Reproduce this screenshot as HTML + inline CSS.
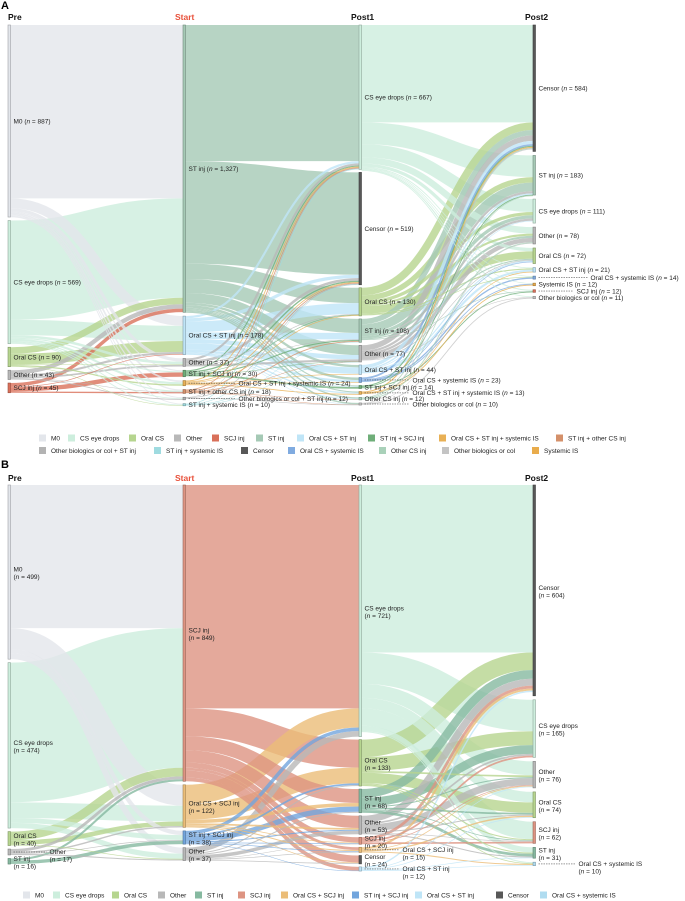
<!DOCTYPE html>
<html><head><meta charset="utf-8">
<style>
html,body{margin:0;padding:0;background:#fff;}
svg{display:block;font-family:"Liberation Sans",Arial,sans-serif;}
</style></head>
<body>
<svg id="chart" width="685" height="901" viewBox="0 0 685 901" xmlns="http://www.w3.org/2000/svg">
<text x="1" y="9" font-size="11" font-weight="bold">A</text>
<text x="1" y="468" font-size="11" font-weight="bold">B</text>
<g id="panelA"></g>
<g id="panelB"></g>
<g id="legendA"></g>
<g id="legendB"></g>
</svg>
<script>
// ---------- Panel A data ----------
const aStages = ["Pre","Start","Post1","Post2"];
const aPreNames = ["M0","CS eye drops","Oral CS","Other","SCJ inj"];
const aPreCounts = [887,569,90,43,45];
const aStartNames = ["ST inj","Oral CS + ST inj","Other","ST inj + SCJ inj","Oral CS + ST inj + systemic IS","ST inj + other CS inj","Other biologics or col + ST inj","ST inj + systemic IS"];
const aStartCounts = [1327,178,37,30,24,18,12,10];
const aPost1Names = ["CS eye drops","Censor","Oral CS","ST inj","Other","Oral CS + ST inj","Oral CS + systemic IS","ST inj + SCJ inj","Oral CS + ST inj + systemic IS","Other CS inj","Other biologics or col"];
const aPost1Counts = [667,519,130,108,77,44,23,14,13,12,10];
const aPost2Names = ["Censor","ST inj","CS eye drops","Other","Oral CS","Oral CS + ST inj","Oral CS + systemic IS","Systemic IS","SCJ inj","Other biologics or col"];
const aPost2Counts = [584,183,111,78,72,21,14,12,12,11];
const aFlowsPreStart = [
 ["M0","ST inj",801],["M0","Oral CS + ST inj",45],["M0","Other",15],["M0","ST inj + SCJ inj",5],["M0","Oral CS + ST inj + systemic IS",8],["M0","ST inj + other CS inj",6],["M0","Other biologics or col + ST inj",4],["M0","ST inj + systemic IS",4],
 ["CS eye drops","ST inj",459],["CS eye drops","Oral CS + ST inj",70],["CS eye drops","Other",12],["CS eye drops","ST inj + SCJ inj",5],["CS eye drops","Oral CS + ST inj + systemic IS",10],["CS eye drops","ST inj + other CS inj",5],["CS eye drops","Other biologics or col + ST inj",4],["CS eye drops","ST inj + systemic IS",4],
 ["Oral CS","ST inj",30],["Oral CS","Oral CS + ST inj",50],["Oral CS","Oral CS + ST inj + systemic IS",6],["Oral CS","Other",2],["Oral CS","ST inj + systemic IS",2],
 ["Other","ST inj",20],["Other","Oral CS + ST inj",10],["Other","Other",8],["Other","Other biologics or col + ST inj",4],["Other","ST inj + other CS inj",1],
 ["SCJ inj","ST inj",16],["SCJ inj","ST inj + SCJ inj",20],["SCJ inj","ST inj + other CS inj",6],["SCJ inj","Oral CS + ST inj",3]
];
const aFlowsStartPost1 = [
 ["ST inj","CS eye drops",629],["ST inj","Censor",473],["ST inj","Oral CS",71],["ST inj","ST inj",65],["ST inj","Other",45],["ST inj","Oral CS + ST inj",11],["ST inj","Oral CS + systemic IS",12],["ST inj","ST inj + SCJ inj",5],["ST inj","Oral CS + ST inj + systemic IS",5],["ST inj","Other CS inj",6],["ST inj","Other biologics or col",7],
 ["Oral CS + ST inj","CS eye drops",10],["Oral CS + ST inj","Censor",15],["Oral CS + ST inj","Oral CS",50],["Oral CS + ST inj","ST inj",30],["Oral CS + ST inj","Other",20],["Oral CS + ST inj","Oral CS + ST inj",30],["Oral CS + ST inj","Oral CS + systemic IS",10],["Oral CS + ST inj","Oral CS + ST inj + systemic IS",6],["Oral CS + ST inj","Other CS inj",4],["Oral CS + ST inj","ST inj + SCJ inj",2],["Oral CS + ST inj","Other biologics or col",1],
 ["Other","CS eye drops",10],["Other","Censor",12],["Other","Other",10],["Other","Oral CS",3],["Other","ST inj",2],
 ["ST inj + SCJ inj","CS eye drops",5],["ST inj + SCJ inj","Censor",6],["ST inj + SCJ inj","ST inj + SCJ inj",8],["ST inj + SCJ inj","ST inj",5],["ST inj + SCJ inj","Oral CS",3],["ST inj + SCJ inj","Other",1],
 ["Oral CS + ST inj + systemic IS","Censor",4],["Oral CS + ST inj + systemic IS","Oral CS + systemic IS",3],["Oral CS + ST inj + systemic IS","Oral CS + ST inj + systemic IS",4],["Oral CS + ST inj + systemic IS","Oral CS",3],["Oral CS + ST inj + systemic IS","CS eye drops",4],["Oral CS + ST inj + systemic IS","Oral CS + ST inj",3],
 ["ST inj + other CS inj","CS eye drops",4],["ST inj + other CS inj","Censor",4],["ST inj + other CS inj","ST inj",4],["ST inj + other CS inj","Other CS inj",2],["ST inj + other CS inj","Other",1],["ST inj + other CS inj","Other biologics or col",1],
 ["Other biologics or col + ST inj","CS eye drops",2],["Other biologics or col + ST inj","Censor",3],["Other biologics or col + ST inj","Other biologics or col",1],
 ["ST inj + systemic IS","CS eye drops",3],["ST inj + systemic IS","ST inj",2],["ST inj + systemic IS","Censor",2],["ST inj + systemic IS","Other",1]
];
const aFlowsPost1Post2 = [
 ["CS eye drops","Censor",450],["CS eye drops","ST inj",100],["CS eye drops","CS eye drops",60],["CS eye drops","Other",30],["CS eye drops","Oral CS",15],["CS eye drops","Oral CS + ST inj",4],["CS eye drops","Oral CS + systemic IS",3],["CS eye drops","Systemic IS",3],["CS eye drops","SCJ inj",5],["CS eye drops","Other biologics or col",4],
 ["Oral CS","Censor",35],["Oral CS","ST inj",25],["Oral CS","Oral CS",35],["Oral CS","Other",10],["Oral CS","CS eye drops",15],["Oral CS","Oral CS + ST inj",5],["Oral CS","Oral CS + systemic IS",3],
 ["ST inj","Censor",25],["ST inj","ST inj",40],["ST inj","Other",10],["ST inj","CS eye drops",15],["ST inj","Oral CS",5],["ST inj","SCJ inj",3],
 ["Other","Censor",25],["Other","Other",20],["Other","ST inj",10],["Other","CS eye drops",10],["Other","Oral CS",3],["Other","Other biologics or col",2],
 ["Oral CS + ST inj","Censor",15],["Oral CS + ST inj","ST inj",6],["Oral CS + ST inj","Oral CS + ST inj",10],["Oral CS + ST inj","Oral CS",5],["Oral CS + ST inj","CS eye drops",3],
 ["Oral CS + systemic IS","Censor",8],["Oral CS + systemic IS","Oral CS + systemic IS",6],["Oral CS + systemic IS","Systemic IS",4],["Oral CS + systemic IS","Oral CS",3],
 ["ST inj + SCJ inj","Censor",5],["ST inj + SCJ inj","ST inj",4],["ST inj + SCJ inj","SCJ inj",4],
 ["Oral CS + ST inj + systemic IS","Censor",5],["Oral CS + ST inj + systemic IS","Systemic IS",4],["Oral CS + ST inj + systemic IS","Oral CS + ST inj",3],
 ["Other CS inj","Censor",4],["Other CS inj","ST inj",3],["Other CS inj","Other",4],
 ["Other biologics or col","Censor",3],["Other biologics or col","Other biologics or col",4],["Other biologics or col","Other",2]
];
const aColors = {"M0":"#e3e6eb","CS eye drops":"#cdeedd","Oral CS":"#b6d58f","Other":"#b8b8b8","SCJ inj":"#d9705a","ST inj":"#a5c9b5","Oral CS + ST inj":"#bfe5f7","ST inj + SCJ inj":"#6fae79","Oral CS + ST inj + systemic IS":"#e8b055","ST inj + other CS inj":"#d4906a","Other biologics or col + ST inj":"#b3b3b3","ST inj + systemic IS":"#9fdbe0","Censor":"#585858","Oral CS + systemic IS":"#80abe0","Other CS inj":"#a9d1b9","Other biologics or col":"#c4c4c4","Systemic IS":"#e9ac4c"};
const aLegendNames = ["M0","CS eye drops","Oral CS","Other","SCJ inj","ST inj","Oral CS + ST inj","ST inj + SCJ inj","Oral CS + ST inj + systemic IS","ST inj + other CS inj","Other biologics or col + ST inj","ST inj + systemic IS","Censor","Oral CS + systemic IS","Other CS inj","Other biologics or col","Systemic IS"];

// ---------- Panel B data ----------
const bPreNames = ["M0","CS eye drops","Oral CS","Other","ST inj"];
const bPreCounts = [499,474,40,17,16];
const bStartNames = ["SCJ inj","Oral CS + SCJ inj","ST inj + SCJ inj","Other"];
const bStartCounts = [849,122,38,37];
const bPost1Names = ["CS eye drops","Oral CS","ST inj","Other","SCJ inj","Oral CS + SCJ inj","Censor","Oral CS + ST inj"];
const bPost1Counts = [721,133,68,53,20,15,24,12];
const bPost2Names = ["Censor","CS eye drops","Other","Oral CS","SCJ inj","ST inj","Oral CS + systemic IS"];
const bPost2Counts = [604,165,76,74,62,31,10];
const bFlowsPreStart = [
 ["M0","SCJ inj",410],["M0","Oral CS + SCJ inj",60],["M0","ST inj + SCJ inj",12],["M0","Other",17],
 ["CS eye drops","SCJ inj",400],["CS eye drops","Oral CS + SCJ inj",45],["CS eye drops","ST inj + SCJ inj",14],["CS eye drops","Other",15],
 ["Oral CS","SCJ inj",25],["Oral CS","Oral CS + SCJ inj",13],["Oral CS","Other",2],
 ["Other","SCJ inj",8],["Other","Oral CS + SCJ inj",4],["Other","ST inj + SCJ inj",2],["Other","Other",3],
 ["ST inj","SCJ inj",6],["ST inj","ST inj + SCJ inj",10]
];
const bFlowsStartPost1 = [
 ["SCJ inj","CS eye drops",640],["SCJ inj","Oral CS",80],["SCJ inj","ST inj",40],["SCJ inj","Other",35],["SCJ inj","SCJ inj",15],["SCJ inj","Oral CS + SCJ inj",8],["SCJ inj","Censor",20],["SCJ inj","Oral CS + ST inj",11],
 ["Oral CS + SCJ inj","CS eye drops",55],["Oral CS + SCJ inj","Oral CS",45],["Oral CS + SCJ inj","ST inj",10],["Oral CS + SCJ inj","Other",5],["Oral CS + SCJ inj","SCJ inj",2],["Oral CS + SCJ inj","Oral CS + SCJ inj",3],["Oral CS + SCJ inj","Censor",2],
 ["ST inj + SCJ inj","CS eye drops",10],["ST inj + SCJ inj","ST inj",15],["ST inj + SCJ inj","Oral CS",5],["ST inj + SCJ inj","Other",3],["ST inj + SCJ inj","SCJ inj",2],["ST inj + SCJ inj","Oral CS + SCJ inj",2],["ST inj + SCJ inj","Oral CS + ST inj",1],
 ["Other","CS eye drops",16],["Other","Oral CS",3],["Other","ST inj",3],["Other","Other",10],["Other","SCJ inj",1],["Other","Oral CS + SCJ inj",2],["Other","Censor",2]
];
const bFlowsPost1Post2 = [
 ["CS eye drops","Censor",480],["CS eye drops","CS eye drops",90],["CS eye drops","Other",40],["CS eye drops","Oral CS",30],["CS eye drops","SCJ inj",50],["CS eye drops","ST inj",15],["CS eye drops","Oral CS + systemic IS",3],
 ["Oral CS","Censor",50],["Oral CS","CS eye drops",40],["Oral CS","Other",5],["Oral CS","Oral CS",30],["Oral CS","SCJ inj",3],["Oral CS","ST inj",3],["Oral CS","Oral CS + systemic IS",2],
 ["ST inj","Censor",25],["ST inj","CS eye drops",25],["ST inj","Other",3],["ST inj","Oral CS",5],["ST inj","SCJ inj",2],["ST inj","ST inj",8],
 ["Other","Censor",20],["Other","CS eye drops",5],["Other","Other",20],["Other","Oral CS",3],["Other","ST inj",3],["Other","SCJ inj",2],
 ["SCJ inj","Censor",8],["SCJ inj","CS eye drops",5],["SCJ inj","SCJ inj",5],["SCJ inj","Other",2],
 ["Oral CS + SCJ inj","Censor",6],["Oral CS + SCJ inj","Oral CS",4],["Oral CS + SCJ inj","Oral CS + systemic IS",3],["Oral CS + SCJ inj","Other",2],
 ["Oral CS + ST inj","Censor",4],["Oral CS + ST inj","Oral CS",2],["Oral CS + ST inj","Oral CS + systemic IS",2],["Oral CS + ST inj","ST inj",2],["Oral CS + ST inj","Other",2]
];
const bColors = {"M0":"#e3e6eb","CS eye drops":"#cdeedd","Oral CS":"#b6d58f","Other":"#b8b8b8","ST inj":"#86b9a0","SCJ inj":"#dd9482","Oral CS + SCJ inj":"#ebbd78","ST inj + SCJ inj":"#72a5dd","Oral CS + ST inj":"#bfe5f7","Censor":"#585858","Oral CS + systemic IS":"#b0dcf0"};
const bLegendNames = ["M0","CS eye drops","Oral CS","Other","ST inj","SCJ inj","Oral CS + SCJ inj","ST inj + SCJ inj","Oral CS + ST inj","Censor","Oral CS + systemic IS"];

// ---------- layout (not data) ----------
const NS = "http://www.w3.org/2000/svg";
const colX = [8,183,359,533];
const NODE_W = 2.5;
function mk(tag, attrs, parent){const e=document.createElementNS(NS,tag);for(const k in attrs)e.setAttribute(k,attrs[k]);parent.appendChild(e);return e;}
function darken(hex,f){const n=parseInt(hex.slice(1),16);const r=Math.round(((n>>16)&255)*f),g=Math.round(((n>>8)&255)*f),b=Math.round((n&255)*f);return "rgb("+r+","+g+","+b+")";}
function slug(s){return s.toLowerCase().replace(/\+/g,"plus").replace(/[^a-z0-9]+/g,"-").replace(/^-|-$/g,"");}
function fmt(n){return n.toLocaleString("en-US");}

function drawPanel(g, cfg){
  const cols = cfg.names.map((names,c)=>{
    let y = cfg.top;
    return names.map((nm,i)=>{
      const h = cfg.counts[c][i]*cfg.scale;
      const node = {c, i, name:nm, n:cfg.counts[c][i], y, h, out:0, inn:0};
      y += h + cfg.gaps[c];
      return node;
    });
  });
  const links = [];
  cfg.flows.forEach((fl,c)=>{
    const src = cols[c], tgt = cols[c+1];
    const ls = fl.map(f=>({s:src.find(n=>n.name===f[0]), t:tgt.find(n=>n.name===f[1]), v:f[2], c}));
    ls.slice().sort((a,b)=>a.s.i-b.s.i||a.t.i-b.t.i).forEach(l=>{l.w=l.v*cfg.scale;l.y0=l.s.y+l.s.out+l.w/2;l.s.out+=l.w;});
    ls.slice().sort((a,b)=>a.t.i-b.t.i||a.s.i-b.s.i).forEach(l=>{l.y1=l.t.y+l.t.inn+l.w/2;l.t.inn+=l.w;});
    links.push(...ls);
  });
  const lg = mk("g",{},g);
  
  
  links.slice().sort((a,b)=>b.v-a.v).forEach(l=>{
    const x0 = colX[l.c]+NODE_W, x1 = colX[l.c+1], xm=(x0+x1)/2;
    const p = mk("path",{d:`M${x0},${l.y0}C${xm},${l.y0} ${xm},${l.y1} ${x1},${l.y1}`,fill:"none",stroke:cfg.colors[l.s.name],"stroke-width":Math.max(l.w,0.5),"stroke-opacity":0.8},lg);
    
    
  });
  cfg.stages.forEach((s,c)=>{
    const t = mk("text",{x:colX[c]-(c===0?0:8),y:cfg.headerY,"font-size":8.5,"font-weight":"bold",fill:c===1?"#e8503a":"#111"},g);
    t.textContent = s;
    
    
  });
  cols.forEach((col,c)=>col.forEach(n=>{
    const r = mk("rect",{x:colX[c],y:n.y,width:NODE_W,height:Math.max(n.h,1),fill:cfg.colors[n.name],stroke:darken(cfg.colors[n.name],0.7),"stroke-width":0.6},g);
    
    
    const cy = n.y + n.h/2;
    const key = c+"|"+n.name;
    const dx = cfg.leaders[key] || 0;
    let tx = colX[c]+NODE_W+3;
    if(dx){
      const ln = mk("line",{x1:tx,y1:cy,x2:tx+dx-3,y2:cy,stroke:"#333","stroke-width":0.5,"stroke-dasharray":"1.5,1"},g);
      
      
      tx += dx;
    }
    const t = mk("text",{x:tx,"font-size":6.5,fill:"#222"},g);
    
    
    if(cfg.twoLine){
      const base = dx ? cy+2 : cy-0.5;
      const a = mk("tspan",{x:tx,y:base},t); a.textContent = n.name;
      const b = mk("tspan",{x:tx,dy:7.5},t); b.textContent = "(";
      const it = mk("tspan",{"font-style":"italic"},t); it.textContent="n";
      const d = mk("tspan",{},t); d.textContent = " = "+fmt(n.n)+")";
    } else {
      t.setAttribute("y", cy+2.3);
      const a = mk("tspan",{},t); a.textContent = n.name+" (";
      const it = mk("tspan",{"font-style":"italic"},t); it.textContent="n";
      const d = mk("tspan",{},t); d.textContent = " = "+fmt(n.n)+")";
    }
  }));
}

function drawLegend(g, names, colors, xs, ys){
  names.forEach((nm,i)=>{
    const item = mk("g",{},g);
    
    
    mk("rect",{x:xs[i],y:ys[i]-3.5,width:7,height:7,fill:colors[nm]},item);
    const t = mk("text",{x:xs[i]+12,y:ys[i]+2.3,"font-size":6.5,fill:"#222"},item);
    t.textContent = nm;
  });
}

drawPanel(document.getElementById("panelA"),{
  id:"panel-a", stages:aStages, headerY:20, top:25, scale:0.2165,
  gaps:[3.5,3.8,3,4],
  names:[aPreNames,aStartNames,aPost1Names,aPost2Names],
  counts:[aPreCounts,aStartCounts,aPost1Counts,aPost2Counts],
  flows:[aFlowsPreStart,aFlowsStartPost1,aFlowsPost1Post2],
  colors:aColors, twoLine:false,
  leaders:{"1|Oral CS + ST inj + systemic IS":50,"1|Other biologics or col + ST inj":50,"2|Oral CS + systemic IS":48,"2|Oral CS + ST inj + systemic IS":48,"2|Other biologics or col":48,"3|Oral CS + systemic IS":52,"3|SCJ inj":38}
});
drawPanel(document.getElementById("panelB"),{
  id:"panel-b", stages:aStages, headerY:481, top:485, scale:0.349,
  gaps:[3.5,3.5,3,4],
  names:[bPreNames,bStartNames,bPost1Names,bPost2Names],
  counts:[bPreCounts,bStartCounts,bPost1Counts,bPost2Counts],
  flows:[bFlowsPreStart,bFlowsStartPost1,bFlowsPost1Post2],
  colors:bColors, twoLine:true,
  leaders:{"0|Other":36,"2|Oral CS + SCJ inj":38,"2|Oral CS + ST inj":38,"3|Oral CS + systemic IS":40}
});
drawLegend(document.getElementById("legendA"), aLegendNames, aColors,
  [39,68,129,174,212,256,297,368,439,556,39,154,241,288,379,442,532],
  [438,438,438,438,438,438,438,438,438,438,450.5,450.5,450.5,450.5,450.5,450.5,450.5]);
drawLegend(document.getElementById("legendB"), bLegendNames, bColors,
  [23,53,112,158,195,238,281,352,415,496,540],
  [895,895,895,895,895,895,895,895,895,895,895]);
</script>
</body></html>
